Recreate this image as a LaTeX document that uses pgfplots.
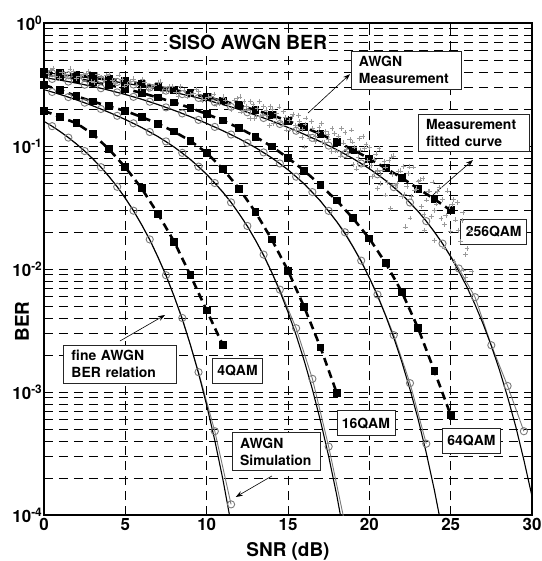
\documentclass[border=0pt]{standalone}
\usepackage{fontspec}
\setmainfont{TeX Gyre Heros}
\usepackage{pgfplots}
\pgfplotsset{compat=1.18}
\usetikzlibrary{arrows.meta}

\pgfplotsset{
  theory/.style={black, line width=1.1bp, no marks},
  sim/.style={black!52, line width=0.9bp, mark=o, mark size=3.6bp,
              mark options={black!52, line width=0.9bp}},
  fit/.style={black, line width=2.6bp, dash pattern=on 8bp off 5bp,
              mark=square*, mark size=2.6bp, mark options={solid, black}},
  meas/.style={only marks, mark=+, mark size=2.4bp,
               mark options={black!40, line width=0.5bp}},
}
\tikzset{
  box/.style={draw=black!85, line width=0.6bp, fill=white, inner xsep=5bp,
              minimum height=25bp, font=\bfseries\fontsize{14}{17}\selectfont},
  mbox/.style={box, align=left, inner xsep=8bp, inner ysep=5bp},
  note/.style={black, line width=0.6bp, -{Stealth[length=7bp,width=5bp]}},
}

\begin{document}
\begin{tikzpicture}
\useasboundingbox (-44bp,-46bp) rectangle (498bp,515bp);
\begin{axis}[
  scale only axis, width=488bp, height=492bp,
  at={(0,0)}, anchor=south west,
  ymode=log, xmin=0, xmax=30, ymin=1e-4, ymax=1,
  xtick={0,5,...,30},
  ytick={1e-4,1e-3,1e-2,1e-1,1},
  yticklabels={{10\textsuperscript{-4}},{10\textsuperscript{-3}},{10\textsuperscript{-2}},{10\textsuperscript{-1}},{10\textsuperscript{0}}},
  minor ytick={2e-4,3e-4,4e-4,5e-4,6e-4,7e-4,8e-4,9e-4,
               2e-3,3e-3,4e-3,5e-3,6e-3,7e-3,8e-3,9e-3,
               2e-2,3e-2,4e-2,5e-2,6e-2,7e-2,8e-2,9e-2,
               0.2,0.3,0.4,0.5,0.6,0.7,0.8,0.9},
  grid=both,
  major grid style={black, line width=0.6bp, dash pattern=on 9bp off 6bp},
  minor grid style={black, line width=0.6bp, dash pattern=on 9bp off 6bp},
  axis line style={line width=1.1bp},
  tick align=inside, major tick length=6bp, minor tick length=3.5bp,
  tick style={black, line width=0.7bp},
  ticklabel style={font=\bfseries\fontsize{17}{17}\selectfont},
  yticklabel style={inner xsep=1.5bp},
  /pgf/number format/assume math mode=true,
  xlabel={SNR (dB)}, ylabel={BER},
  label style={font=\bfseries\fontsize{19}{19}\selectfont},
  xlabel style={at={(axis description cs:0.5,-0.073)}, anchor=center},
  ylabel style={at={(axis description cs:-0.045,0.393)}, anchor=center},
]

% AWGN simulation (grey circles)
\addplot[sim] coordinates {(0.5,0.145)(1.5,0.117)(2.5,0.091)(3.5,0.0673)(4.5,0.0466)(5.5,0.0298)(6.5,0.0174)(7.5,0.0089)(8.5,0.0040)(9.5,0.00145)(10.5,4.8e-4)(11.5,1.22e-4)};
\addplot[sim, mark indices={1,...,18}] coordinates {(0.5,0.275)(1.5,0.250)(2.5,0.225)(3.5,0.200)(4.5,0.176)(5.5,0.153)(6.5,0.130)(7.5,0.109)(8.5,0.088)(9.5,0.068)(10.5,0.050)(11.5,0.0348)(12.5,0.0224)(13.5,0.0131)(14.5,0.0068)(15.5,0.0033)(16.5,0.00128)(17.5,3.6e-4)(18.5,8.5e-5)};
\addplot[sim] coordinates {(0.5,0.351)(1.5,0.334)(2.5,0.315)(3.5,0.295)(4.5,0.273)(5.5,0.251)(6.5,0.229)(7.5,0.206)(8.5,0.184)(9.5,0.163)(10.5,0.143)(11.5,0.124)(12.5,0.106)(13.5,0.0887)(14.5,0.0721)(15.5,0.0563)(16.5,0.0422)(17.5,0.0297)(18.5,0.0199)(19.5,0.0117)(20.5,0.0062)(21.5,0.0029)(22.5,0.00118)(23.5,3.8e-4)};
\addplot[sim] coordinates {(0.5,0.391)(1.5,0.376)(2.5,0.362)(3.5,0.347)(4.5,0.332)(5.5,0.316)(6.5,0.299)(7.5,0.282)(8.5,0.264)(9.5,0.246)(10.5,0.227)(11.5,0.208)(12.5,0.188)(13.5,0.169)(14.5,0.151)(15.5,0.133)(16.5,0.1163)(17.5,0.1007)(18.5,0.0861)(19.5,0.0721)(20.5,0.0589)(21.5,0.0463)(22.5,0.0347)(23.5,0.0245)(24.5,0.0161)(25.5,0.0101)(26.5,0.0059)(27.5,0.0024)(28.5,0.00112)(29.5,4.8e-4)};

% fine AWGN BER relation (black solid)
\addplot[theory] coordinates {(0,0.1587)(0.5,0.1447)(1,0.1309)(1.5,0.1172)(2,0.1039)(2.5,0.0910)(3,0.0788)(3.5,0.0673)(4,0.0565)(4.5,0.0466)(5,0.0377)(5.5,0.0298)(6,0.0230)(6.5,0.0173)(7,0.01256)(7.5,0.00887)(8,0.0060)(8.5,0.0039)(9,0.00242)(9.5,0.00142)(10,7.82e-4)(10.5,4.04e-4)(11,1.94e-4)(11.5,8.5e-5)};
\addplot[theory] coordinates {(0,0.2873)(1,0.2625)(2,0.2372)(3,0.2122)(4,0.1878)(5,0.1642)(6,0.1415)(7,0.1195)(8,0.0982)(9,0.0778)(10,0.0590)(11,0.0422)(11.5,0.0348)(12,0.0281)(12.5,0.0223)(13,0.01717)(13.5,0.0129)(14,0.00938)(14.5,0.0066)(15,0.00446)(15.5,0.0029)(16,0.00179)(16.5,0.00105)(17,5.8e-4)(17.5,3.0e-4)(18,1.44e-4)(18.5,6.3e-5)};
\addplot[theory] coordinates {(0,0.3598)(1,0.3428)(2,0.3246)(3,0.3050)(4,0.2842)(5,0.2625)(6,0.2401)(7,0.2174)(8,0.1950)(9,0.1733)(10,0.1526)(11,0.1330)(12,0.1146)(13,0.0971)(14,0.0802)(15,0.0642)(16,0.0492)(17,0.0357)(18,0.0242)(18.5,0.0194)(19,0.0151)(19.5,0.0115)(20,0.00849)(20.5,0.00607)(21,0.00418)(21.5,0.00277)(22,0.00175)(22.5,0.00105)(23,6.0e-4)(23.5,3.2e-4)(24,1.59e-4)(24.5,7.3e-5)};
\addplot[theory] coordinates {(0,0.3954)(1,0.3825)(2,0.3693)(3,0.3547)(4,0.3397)(5,0.3238)(6,0.3075)(7,0.2905)(8,0.2731)(9,0.2545)(10,0.2366)(11,0.2170)(12,0.1983)(13,0.1785)(14,0.1600)(15,0.1415)(16,0.1245)(17,0.1084)(18,0.0933)(19,0.0791)(20,0.0655)(21,0.0525)(22,0.0404)(23,0.02944)(23.5,0.0245)(24,0.02006)(24.5,0.0161)(25,0.0126)(25.5,0.0096)(26,0.00714)(26.5,0.00513)(27,0.00356)(27.5,0.00237)(28,0.00151)(28.5,9.1e-4)(29,5.25e-4)(29.5,2.8e-4)(30,1.42e-4)};

% measurement fitted curves (black dashed, squares)
\addplot[fit] coordinates {(0,0.1936)(1,0.172)(2,0.153)(3,0.125)(4,0.094)(5,0.0671)(6,0.0453)(7,0.0282)(8,0.0167)(9,0.0089)(10,0.0046)(11,0.0024)};
\addplot[fit] coordinates {(0,0.313)(1,0.285)(2,0.254)(3,0.230)(4,0.210)(5,0.193)(6,0.172)(7,0.152)(8,0.131)(9,0.110)(10,0.088)(11,0.065)(12,0.045)(13,0.029)(14,0.0174)(15,0.0097)(16,0.0049)(17,0.0023)(18,0.00098)};
\addplot[fit] coordinates {(0,0.385)(1,0.370)(2,0.352)(3,0.333)(4,0.313)(5,0.292)(6,0.270)(7,0.248)(8,0.226)(9,0.204)(10,0.182)(11,0.161)(12,0.140)(13,0.119)(14,0.099)(15,0.080)(16,0.063)(17,0.048)(18,0.036)(19,0.0258)(20,0.0177)(21,0.0112)(22,0.0065)(23,0.0033)(24,0.00148)(25,0.00065)};
\addplot[fit] coordinates {(0,0.400)(1,0.390)(2,0.378)(3,0.365)(4,0.351)(5,0.336)(6,0.320)(7,0.303)(8,0.286)(9,0.268)(10,0.250)(11,0.232)(12,0.214)(13,0.196)(14,0.178)(15,0.160)(16,0.142)(17,0.125)(18,0.108)(19,0.093)(20,0.079)(21,0.066)(22,0.055)(23,0.045)(24,0.037)(25,0.030)};

% 256QAM AWGN measurement samples
\addplot[meas] coordinates {
(0.4,0.415)(0.7,0.367)(1.1,0.398)(1.4,0.367)(1.8,0.407)(2.2,0.367)(2.6,0.388)(2.9,0.338)
(3.3,0.382)(3.7,0.343)(4.0,0.385)(4.4,0.322)(4.8,0.347)(5.1,0.319)(5.5,0.352)(5.9,0.293)
(6.2,0.327)(6.6,0.303)(7.0,0.328)(7.3,0.278)(7.7,0.305)(8.1,0.272)(8.4,0.305)(8.8,0.251)
(9.2,0.270)(9.5,0.277)(9.9,0.238)(10.3,0.256)(10.6,0.218)(11.0,0.251)(11.3,0.219)(11.7,0.235)
(12.1,0.189)(12.3,0.229)(12.5,0.195)(12.7,0.231)(12.9,0.168)(13.1,0.203)(13.3,0.174)(13.5,0.209)
(13.7,0.179)(13.9,0.211)(14.1,0.153)(14.3,0.185)(14.5,0.157)(14.7,0.190)(14.9,0.135)(15.1,0.162)
(15.3,0.182)(15.5,0.134)(15.7,0.158)(15.9,0.137)(16.1,0.169)(16.3,0.116)(16.5,0.140)(16.7,0.121)
(16.9,0.142)(17.1,0.107)(17.3,0.131)(17.5,0.1135)(17.7,0.139)(17.9,0.0912)
(18.1,0.119)(18.2,0.0832)(18.4,0.106)(18.5,0.129)(18.7,0.0867)(18.8,0.113)(19.0,0.0705)(19.1,0.098)
(19.3,0.0807)(19.4,0.115)(19.6,0.0702)(19.7,0.0953)(19.9,0.0767)(20.0,0.0973)(20.2,0.0565)(20.3,0.0783)
(20.5,0.063)(20.6,0.0957)(20.8,0.0638)(20.9,0.0753)(21.1,0.0504)(21.2,0.0766)(21.4,0.0586)(21.5,0.0832)
(21.7,0.0494)(21.8,0.0625)(22.0,0.0389)(22.1,0.0679)(22.3,0.0472)(22.4,0.0597)(22.6,0.0387)(22.7,0.0675)
(22.9,0.0449)(23.0,0.0516)(23.2,0.0321)(23.3,0.0547)(23.5,0.0364)(23.6,0.0429)(23.8,0.0266)(23.9,0.0509)
(24.1,0.0338)(24.2,0.0427)(24.4,0.0258)(24.5,0.0366)(24.7,0.0272)(24.8,0.0432)(25.0,0.0203)(25.1,0.0337)
(25.3,0.0251)(25.4,0.0348)(25.6,0.0167)(25.7,0.0248)(25.9,0.0131)
(22.2,0.022)(24.6,0.0148)(25.2,0.0115)(18.9,0.135)(16.0,0.098)(21.3,0.031)(23.4,0.0205)(25.8,0.0098)
(0.25,0.388)(0.55,0.428)(0.95,0.356)(1.25,0.386)(1.6,0.424)(2.0,0.353)(2.4,0.382)(2.75,0.404)
(3.1,0.328)(3.5,0.362)(3.85,0.378)(4.2,0.340)(4.6,0.379)(4.95,0.307)(5.3,0.335)(5.7,0.310)
(6.05,0.350)(6.4,0.289)(6.8,0.313)(7.15,0.333)(7.5,0.281)(7.9,0.308)(8.25,0.254)(8.6,0.284)
(9.0,0.262)(9.35,0.290)(9.7,0.233)(10.1,0.251)(10.45,0.265)(10.8,0.220)(11.15,0.237)(11.5,0.199)
(11.85,0.243)
(12.05,0.251)(12.25,0.195)(12.45,0.210)(12.65,0.168)(12.85,0.218)(13.05,0.174)(13.25,0.230)(13.45,0.179)
(13.65,0.197)(13.85,0.147)(14.05,0.199)(14.25,0.169)(14.45,0.208)(14.65,0.148)(14.85,0.170)(15.05,0.1355)
(15.25,0.174)(15.45,0.148)(15.65,0.178)(15.85,0.1175)(16.05,0.151)(16.25,0.1256)(16.45,0.158)(16.65,0.1086)
(16.85,0.130)(17.05,0.153)(17.25,0.1074)(17.45,0.1256)(17.65,0.0904)(17.85,0.1268)
(18.05,0.0912)(18.3,0.139)(18.6,0.0942)(18.95,0.1076)(19.2,0.0652)(19.45,0.0927)(19.8,0.1028)(20.1,0.0692)
(20.4,0.0865)(20.7,0.0493)(21.0,0.0675)(21.35,0.0817)(21.6,0.0481)(21.9,0.0628)(22.15,0.0405)(22.45,0.0678)
(22.8,0.0437)(23.1,0.0531)(23.35,0.0277)(23.7,0.0430)(24.0,0.0301)(24.3,0.0458)(24.6,0.0231)(24.9,0.0321)
(25.15,0.0366)(25.45,0.0207)(25.75,0.0288)(26.0,0.0147)(26.2,0.0208)(26.3,0.0095)
(22.5,0.026)(21.0,0.040)(19.6,0.12)(24.0,0.017)(25.9,0.0085)(20.5,0.045)
};

% annotations
\node[fill=white, inner sep=2bp, font=\bfseries\fontsize{19.5}{20}\selectfont]
  at (rel axis cs:0.418,0.961) {SISO AWGN BER};
\node[mbox, text width=94bp] at (rel axis cs:0.7416,0.9038) {AWGN\\Measurement};
\node[mbox, text width=95bp] at (rel axis cs:0.8805,0.7764) {Measurement\\fitted curve};
\node[box] at (rel axis cs:0.9215,0.5758) {256QAM};
\node[mbox, text width=97bp] at (rel axis cs:0.1557,0.3065) {fine AWGN\\BER relation};
\node[box] at (rel axis cs:0.3965,0.2941) {4QAM};
\node[mbox, text width=72bp] at (rel axis cs:0.4758,0.1291) {AWGN\\Simulation};
\node[box] at (rel axis cs:0.6596,0.1864) {16QAM};
\node[box] at (rel axis cs:0.876,0.1508) {64QAM};

\draw[note] (rel axis cs:0.541,0.817) -- (rel axis cs:0.627,0.896);
\draw[note] (rel axis cs:0.797,0.6504) -- (rel axis cs:0.879,0.7215);
\draw[note] (rel axis cs:0.1557,0.3537) -- (rel axis cs:0.248,0.4065);
\draw[note] (rel axis cs:0.467,0.0793) -- (rel axis cs:0.393,0.0366);
\end{axis}
\end{tikzpicture}
\end{document}
